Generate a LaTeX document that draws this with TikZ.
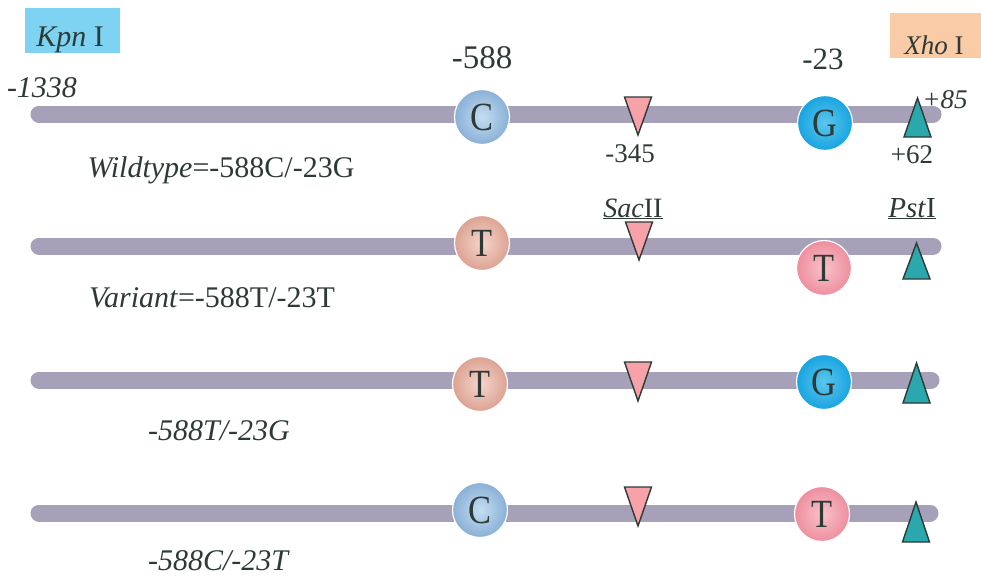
\documentclass[tikz,border=0pt]{standalone}
\usepackage{fontspec}
\setmainfont{Liberation Serif}
\newfontfamily\basefont[FakeStretch=0.86]{Liberation Serif}
\usetikzlibrary{shapes.geometric}

\definecolor{barcol}{HTML}{A6A0B8}
\definecolor{inkcol}{HTML}{2E3A36}
\definecolor{cEdge}{HTML}{8AB0D6}
\definecolor{cCore}{HTML}{C3DEF2}
\definecolor{gEdge}{HTML}{18A4E0}
\definecolor{gCore}{HTML}{5CC6EE}
\definecolor{tlEdge}{HTML}{DCA292}
\definecolor{tlCore}{HTML}{F5D6CC}
\definecolor{trEdge}{HTML}{EE8E9E}
\definecolor{trCore}{HTML}{F9C2CA}
\definecolor{sacfill}{HTML}{F6A2A8}
\definecolor{pstfill}{HTML}{2BA7AE}
\definecolor{kpnfill}{HTML}{7DD3F1}
\definecolor{xhofill}{HTML}{F9CBA6}

\tikzset{
  dnabar/.style={line width=17pt, line cap=round, draw=barcol},
  allele/.style={circle, minimum size=55pt, inner sep=0pt, text=inkcol,
    font=\basefont\fontsize{40}{44}\selectfont, draw=white, line width=1.2pt},
  baseC/.style={allele, inner color=cCore, outer color=cEdge},
  baseG/.style={allele, inner color=gCore, outer color=gEdge},
  baseTl/.style={allele, inner color=tlCore, outer color=tlEdge},
  baseTr/.style={allele, inner color=trCore, outer color=trEdge},
  sacmark/.style={fill=sacfill, draw=inkcol, line width=1.4pt, line join=miter},
  pstmark/.style={fill=pstfill, draw=inkcol, line width=1.4pt, line join=miter},
  lbl/.style={anchor=base, inner sep=0pt, text=inkcol}
}

\newcommand{\fs}[1]{\fontsize{#1}{#1}\selectfont}

\begin{document}
\begin{tikzpicture}[x=1pt, y=-1pt]
  % canvas
  \path[use as bounding box, fill=white] (0,0) rectangle (981,578);

  % restriction enzyme boxes
  \fill[kpnfill] (25,8) rectangle (120,53);
  \fill[xhofill] (890,13) rectangle (981,58);
  \node[lbl, font=\fs{30}] (kpn) at (70,47) {\textit{Kpn} I};
  \node[lbl, font=\fs{27}] (xho) at (934,55) {\textit{Xho} I};

  % promoter bars
  \coordinate (s1) at (39,114);  \coordinate (e1) at (933,114);
  \coordinate (s2) at (39,246);  \coordinate (e2) at (933,246);
  \coordinate (s3) at (39,380);  \coordinate (e3) at (931,380);
  \coordinate (s4) at (39,513);  \coordinate (e4) at (930,513);
  \draw[dnabar] (s1) -- (e1);
  \draw[dnabar] (s2) -- (e2);
  \draw[dnabar] (s3) -- (e3);
  \draw[dnabar] (s4) -- (e4);

  % SacII sites (down triangles)
  \draw[sacmark] (624.5,97)  -- (651.5,97)  -- (638,135) -- cycle;
  \draw[sacmark] (625.5,222) -- (652.5,222) -- (639,260) -- cycle;
  \draw[sacmark] (624.5,362) -- (651.5,362) -- (638,401) -- cycle;
  \draw[sacmark] (624.5,487) -- (651.5,487) -- (638,526) -- cycle;

  % PstI sites (up triangles)
  \draw[pstmark] (904,137) -- (931,137) -- (917.5,98) -- cycle;
  \draw[pstmark] (903,279) -- (930,279) -- (916.5,243) -- cycle;
  \draw[pstmark] (903,403) -- (930,403) -- (916.5,363) -- cycle;
  \draw[pstmark] (902.5,542) -- (929.5,542) -- (916,502) -- cycle;

  % alleles at -588 and -23
  \node[baseC]  (r1a) at (482,117) {C};
  \node[baseG]  (r1b) at (825,123) {G};
  \node[baseTl] (r2a) at (482,243) {T};
  \node[baseTr] (r2b) at (824,268) {T};
  \node[baseTl] (r3a) at (480,384) {T};
  \node[baseG]  (r3b) at (824,382) {G};
  \node[baseC]  (r4a) at (480,510) {C};
  \node[baseTr] (r4b) at (822,514) {T};

  % position labels
  \node[lbl, font=\fs{33}] (p588) at (482,68) {-588};
  \node[lbl, font=\fs{31}] (p23)  at (823,70) {-23};
  \node[lbl, font=\fs{27}] (p345) at (630,162) {-345};
  \node[lbl, font=\fs{27}] (p62)  at (912,163) {+62};
  \node[lbl, font=\fs{27}] (p85)  at (945,108) {\textit{+85}};
  \node[lbl, font=\fs{30}] (p1338) at (42,97) {\textit{-1338}};

  % enzyme names
  \node[lbl, font=\fs{28}] (sac) at (633,217) {\underline{\textit{Sac}II}};
  \node[lbl, font=\fs{29}] (pst) at (912,217) {\underline{\textit{Pst}I}};

  % haplotype names
  \node[lbl, font=\fs{30}] (wt)  at (221,177) {\textit{Wildtype}=-588C/-23G};
  \node[lbl, font=\fs{30}] (var) at (212,307) {\textit{Variant}=-588T/-23T};
  \node[lbl, font=\fs{30}] (h3)  at (219,440) {\textit{-588T/-23G}};
  \node[lbl, font=\fs{30}] (h4)  at (219,570) {\textit{-588C/-23T}};
\end{tikzpicture}
\end{document}
